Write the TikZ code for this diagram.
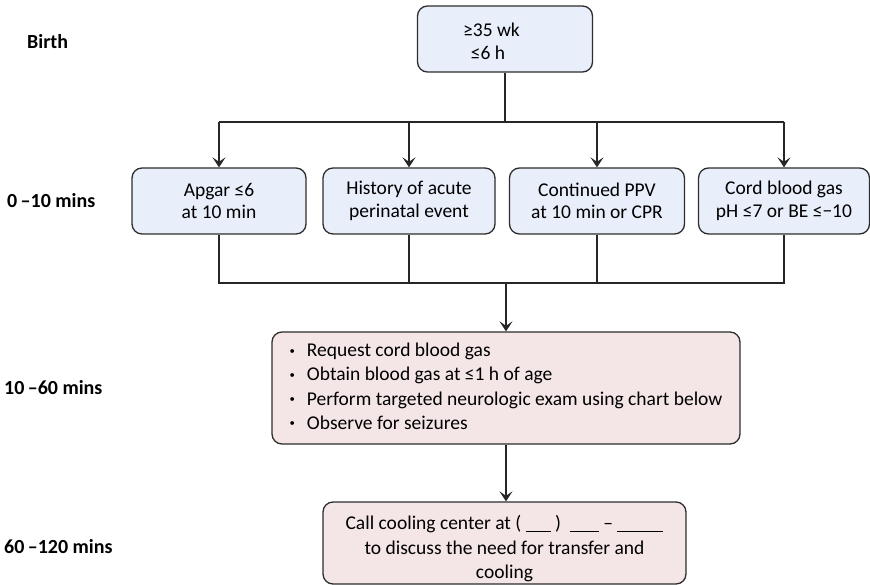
\documentclass[tikz,border=0pt]{standalone}
\usepackage{fontspec}
\setmainfont{Carlito}
\usetikzlibrary{arrows.meta}
\definecolor{boxblue}{RGB}{232,238,250}
\definecolor{boxpink}{RGB}{244,230,230}
\definecolor{edge}{RGB}{45,45,45}
\newcommand{\blank}[1]{\rule[-2pt]{#1pt}{1.1pt}}
\tikzset{
  x=1pt, y=-1pt,
  stagebox/.style={draw=edge, line width=1.3pt, rounded corners=10pt, align=center,
     font=\fontsize{19.5}{22.5}\selectfont, inner sep=0pt},
  bluebox/.style={stagebox, fill=boxblue},
  pinkbox/.style={stagebox, fill=boxpink},
  timelabel/.style={font=\bfseries\fontsize{20}{22}\selectfont, anchor=west, inner sep=0pt},
  conn/.style={draw=black!85, line width=1.4pt},
  arr/.style={conn, -{Stealth[length=10pt,width=13pt,inset=4.5pt]}},
}
\begin{document}
\begin{tikzpicture}
\useasboundingbox (0,0) rectangle (870,585);
% time labels
\node[timelabel] (tb) at (27,42) {Birth};
\node[timelabel] (t1) at (7,201) {0\,–10 mins};
\node[timelabel] (t2) at (4,388) {10\,–60 mins};
\node[timelabel] (t3) at (4,547) {60\,–120 mins};
% boxes
\node[bluebox, minimum width=175, minimum height=66] (top) at (505,39) {\rule{0pt}{18pt}\hspace*{-27pt}≥35 wk\\ \hspace*{-34pt}≤6 h};
\node[bluebox, minimum width=174, minimum height=66] (b1) at (219,201) {Apgar ≤6\\at 10 min};
\node[bluebox, minimum width=172, minimum height=66] (b2) at (409,201) {History of acute\\perinatal event};
\node[bluebox, minimum width=175, minimum height=66] (b3) at (597,201) {Continued PPV\\at 10 min or CPR};
\node[bluebox, minimum width=171, minimum height=66] (b4) at (784,201) {Cord blood gas\\pH ≤7 or BE ≤−10};
\node[pinkbox, minimum width=468, minimum height=112] (mid) at (506,388) {%
  {\renewcommand{\arraystretch}{1.08}%
  \begin{tabular}{@{}l@{\hspace{12pt}}l@{}}
  \raisebox{0.25ex}{\scalebox{0.55}{\textbullet}} & Request cord blood gas\\
  \raisebox{0.25ex}{\scalebox{0.55}{\textbullet}} & Obtain blood gas at ≤1 h of age\\
  \raisebox{0.25ex}{\scalebox{0.55}{\textbullet}} & Perform targeted neurologic exam using chart below\\
  \raisebox{0.25ex}{\scalebox{0.55}{\textbullet}} & Observe for seizures
  \end{tabular}}};
\node[pinkbox, minimum width=363, minimum height=82, font=\fontsize{19.5}{24.5}\selectfont] (bot) at (504.5,543) {\rule{0pt}{26pt}Call cooling center at ( \blank{25} )~~\blank{29} – \blank{46}\\to discuss the need for transfer and\\cooling};
% connectors
\coordinate (h1) at (505,122);
\coordinate (h2) at (506,283);
\draw[conn] (top.south) -- (top.south |- h1);
\draw[conn] (b1.north |- h1) -- (b4.north |- h1);
\draw[arr] (b1.north |- h1) -- (b1.north);
\draw[arr] (b2.north |- h1) -- (b2.north);
\draw[arr] (b3.north |- h1) -- (b3.north);
\draw[arr] (b4.north |- h1) -- (b4.north);
\draw[conn] (b1.south) -- (b1.south |- h2) -- (b4.south |- h2) -- (b4.south);
\draw[conn] (b2.south) -- (b2.south |- h2);
\draw[conn] (b3.south) -- (b3.south |- h2);
\draw[arr] (mid.north |- h2) -- (mid.north);
\draw[arr] (mid.south) -- (mid.south |- bot.north);
\end{tikzpicture}
\end{document}
